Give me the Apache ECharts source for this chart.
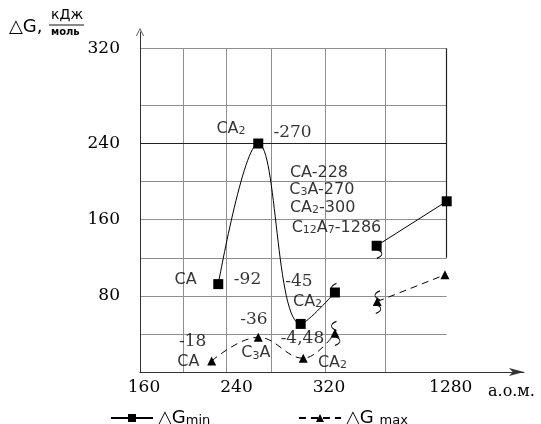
<!DOCTYPE html>
<html><head><meta charset="utf-8">
<script src="https://cdn.jsdelivr.net/npm/echarts@6/dist/echarts.min.js"></script>
<style>html,body{margin:0;padding:0;background:#fff}#c{width:541px;height:424px}</style>
</head><body><div id="c"></div>
<script>
// ΔGmin (solid, squares): [x position on the а.о.м. axis, ΔG]
const gMinSeg1 = [[227.7, 92.3], [262.3, 240], [299, 50.5], [328.6, 83.5]];
const gMinSeg2 = [[364.7, 132.6], [425.3, 179.3]];
// ΔGmax (dashed, triangles)
const gMaxSeg1 = [[222, 11.6], [262.3, 36.5], [301.2, 14.4], [328.6, 40.7]];
const gMaxSeg2 = [[365.2, 74], [423.8, 102.1]];

// axis grid / tick labels (hand-drawn, broken x scale)
const xGridValues = [160, 197.4, 234.6, 273.9, 320, 372.3];
const xLabelValues = [160, 240, 320, 425.3];
const xLabelTexts = ['160', '240', '320', '1280'];
const yGridValues = [0, 40, 80, 120, 160, 200, 240, 280, 340];
const yLabelValues = [80, 160, 240, 340];
const yLabelTexts = ['80', '160', '240', '320'];

// text annotations: [x, y, text, align]
const annotations = [
  [238.7, 255.8, '{n|CA}{s|2}', 'center'],
  [291.9, 251.9, '{v|-270}', 'center'],
  [289.7, 209.2, '{n|CA-228}', 'left'],
  [289.1, 191.6, '{n|C}{s|3}{n|A-270}', 'left'],
  [289.7, 172.3, '{n|CA}{s|2}{n|-300}', 'left'],
  [291.2, 151.6, '{n|C}{s|12}{n|A}{s|7}{n|-1286}', 'left'],
  [449.7, 201.4, '{v|-182}', 'center'],
  [452.5, 166, '{n|C}{s|12}{n|A}{s|7}', 'center'],
  [454, 117.9, '{v|-100}', 'center'],
  [460.2, 95.8, '{n|C}{s|12}{n|A}{s|7}', 'center'],
  [199.4, 96.8, '{n|CA}', 'center'],
  [253, 96.8, '{v|-92}', 'center'],
  [297.5, 95.1, '{v|-45}', 'center'],
  [304.9, 73.4, '{n|CA}{s|2}', 'center'],
  [300.5, 35.5, '{v|-4,48}', 'center'],
  [326.5, 9.8, '{n|CA}{s|2}', 'center'],
  [205.6, 31.9, '{v|-18}', 'center'],
  [201.8, 10.8, '{n|CA}', 'center'],
  [258.6, 54.7, '{v|-36}', 'center'],
  [260.2, 19.7, '{n|C}{s|3}{n|A}', 'center']
];

// axis-break marks near the broken segments: [x, y, shape]
const breakMarks = [
  [327.8, 88.4, 'L'], [327.8, 48.4, 'L'], [330.8, 32.6, 'R'],
  [365.4, 80.5, 'L'], [366.1, 66.3, 'R'], [367.1, 124.2, 'R']
];

const SANS = 'DejaVu Sans', SERIF = 'DejaVu Serif';
const tb = { textBorderWidth: 0, textBorderColor: 'transparent', textShadowBlur: 0 };
const rich = {
  n: Object.assign({ fontFamily: SANS, fontSize: 16, color: '#000' }, tb),
  s: Object.assign({ fontFamily: SANS, fontSize: 11, color: '#000', verticalAlign: 'bottom' }, tb),
  v: Object.assign({ fontFamily: SERIF, fontSize: 17, color: '#000' }, tb)
};
const pathR = 'path://M0,0 C5,3 5,7 0,10';
const pathL = 'path://M5,0 C0,3 0,7 5,10';
const chevronUp = 'path://M5,0 L10,10 L9,10 L5,2 L1,10 L0,10 Z';

function lookup(vals, texts, v) {
  for (let i = 0; i < vals.length; i++) if (Math.abs(vals[i] - v) < 0.01) return texts[i];
  return '';
}

const chart = echarts.init(document.getElementById('c'), null, { renderer: 'canvas' });
const gridColor = '#8f8f8f';
const legendRich = {
  a: { fontFamily: SANS, fontSize: 18, color: '#000' },
  b: { fontFamily: SANS, fontSize: 13, color: '#000', verticalAlign: 'bottom' }
};
chart.setOption({
  animation: false,
  backgroundColor: '#fff',
  grid: [
    { left: 140, right: 94.3, top: 48.3, bottom: 52 },
    { left: 140, right: 17, top: 32, bottom: 52 }
  ],
  xAxis: [
    {
      gridIndex: 0, type: 'value', min: 160, max: 425.3,
      axisLine: { show: false },
      axisTick: { show: false, customValues: xGridValues },
      splitLine: { show: true, lineStyle: { color: gridColor, width: 1 } },
      axisLabel: {
        customValues: xLabelValues, showMinLabel: true, showMaxLabel: true,
        formatter: v => lookup(xLabelValues, xLabelTexts, v),
        fontFamily: SERIF, fontSize: 17, color: '#000', margin: 7, padding: [0, 0, 0, 8]
      }
    },
    {
      gridIndex: 1, type: 'value', min: 0, max: 1,
      axisLine: { show: true, symbol: ['none', 'arrow'], symbolSize: [6, 15], lineStyle: { color: '#333', width: 1 } },
      axisTick: { show: false }, axisLabel: { show: false }, splitLine: { show: false }
    }
  ],
  yAxis: [
    {
      gridIndex: 0, type: 'value', min: 0, max: 340,
      axisLine: { show: false },
      axisTick: { show: false, customValues: yGridValues },
      splitLine: { show: true, lineStyle: { color: gridColor, width: 1 } },
      axisLabel: {
        customValues: yLabelValues, showMinLabel: true, showMaxLabel: true,
        formatter: v => lookup(yLabelValues, yLabelTexts, v),
        fontFamily: SERIF, fontSize: 17, color: '#000', margin: 20
      }
    },
    {
      gridIndex: 1, type: 'value', min: 0, max: 1,
      axisLine: { show: true, symbol: ['none', chevronUp], symbolSize: [8, 10], lineStyle: { color: '#333', width: 1 } },
      axisTick: { show: false }, axisLabel: { show: false }, splitLine: { show: false }
    }
  ],
  legend: [
    {
      data: ['ΔGmin'], left: 105, top: 404, itemWidth: 42, itemHeight: 10, itemGap: 0,
      formatter: () => '{a|△G}{b|min}', textStyle: { rich: legendRich }
    },
    {
      data: ['ΔGmax'], left: 293, top: 404, itemWidth: 42, itemHeight: 10, itemGap: 0,
      formatter: () => '{a|△G }{b|max}', textStyle: { rich: legendRich }
    }
  ],
  series: [
    {
      name: 'ΔGmin', type: 'line', xAxisIndex: 0, yAxisIndex: 0, data: gMinSeg1,
      smooth: 0.4, symbol: 'rect', symbolSize: 10, z: 5,
      itemStyle: { color: '#000' }, lineStyle: { color: '#000', width: 1 },
      markLine: {
        silent: true, symbol: 'none', label: { show: false }, animation: false,
        data: [
          [{ coord: [160, 240] }, { coord: [425.3, 240] }],
          [{ coord: [425.3, 120] }, { coord: [425.3, 340] }]
        ],
        lineStyle: { color: '#222', width: 1.2, type: 'solid' }
      }
    },
    {
      name: 'ΔGmin', type: 'line', xAxisIndex: 0, yAxisIndex: 0, data: gMinSeg2,
      symbol: 'rect', symbolSize: 10, z: 5,
      itemStyle: { color: '#000' }, lineStyle: { color: '#000', width: 1 }
    },
    {
      name: 'ΔGmax', type: 'line', xAxisIndex: 0, yAxisIndex: 0, data: gMaxSeg1,
      smooth: 0.4, symbol: 'triangle', symbolSize: 9, z: 5,
      itemStyle: { color: '#000' }, lineStyle: { color: '#000', width: 1, type: [7, 5] },
      markPoint: {
        silent: true, label: { show: false },
        itemStyle: { color: 'rgba(0,0,0,0)', borderColor: '#000', borderWidth: 1 },
        data: breakMarks.map(m => ({ coord: [m[0], m[1]], symbol: m[2] === 'R' ? pathR : pathL, symbolSize: [5, 9] }))
      }
    },
    {
      name: 'ΔGmax', type: 'line', xAxisIndex: 0, yAxisIndex: 0, data: gMaxSeg2,
      symbol: 'triangle', symbolSize: 9, z: 5,
      itemStyle: { color: '#000' }, lineStyle: { color: '#000', width: 1, type: [7, 5] }
    },
    {
      type: 'scatter', xAxisIndex: 0, yAxisIndex: 0, symbolSize: 0, silent: true, z: 10,
      itemStyle: { color: '#000' },
      data: annotations.map(a => ({
        value: [a[0], a[1]],
        label: Object.assign({ show: true, position: 'inside', align: a[3], formatter: a[2], rich: rich, color: '#000' }, tb)
      }))
    }
  ],
  graphic: [
    { type: 'text', left: 9, top: 18, style: { text: '△G,', font: '18px "DejaVu Sans"', fill: '#000' } },
    { type: 'text', left: 51, top: 8, style: { text: 'кДж', font: '14px "DejaVu Sans"', fill: '#000' } },
    { type: 'line', shape: { x1: 49, y1: 25, x2: 84, y2: 25 }, style: { stroke: '#111', lineWidth: 1 } },
    { type: 'text', left: 51, top: 27, style: { text: 'моль', font: 'bold 10px "DejaVu Sans"', fill: '#000' } },
    { type: 'text', left: 488, top: 384, style: { text: 'а.о.м.', font: '16px "DejaVu Serif"', fill: '#000' } }
  ]
});
</script>
</body></html>
